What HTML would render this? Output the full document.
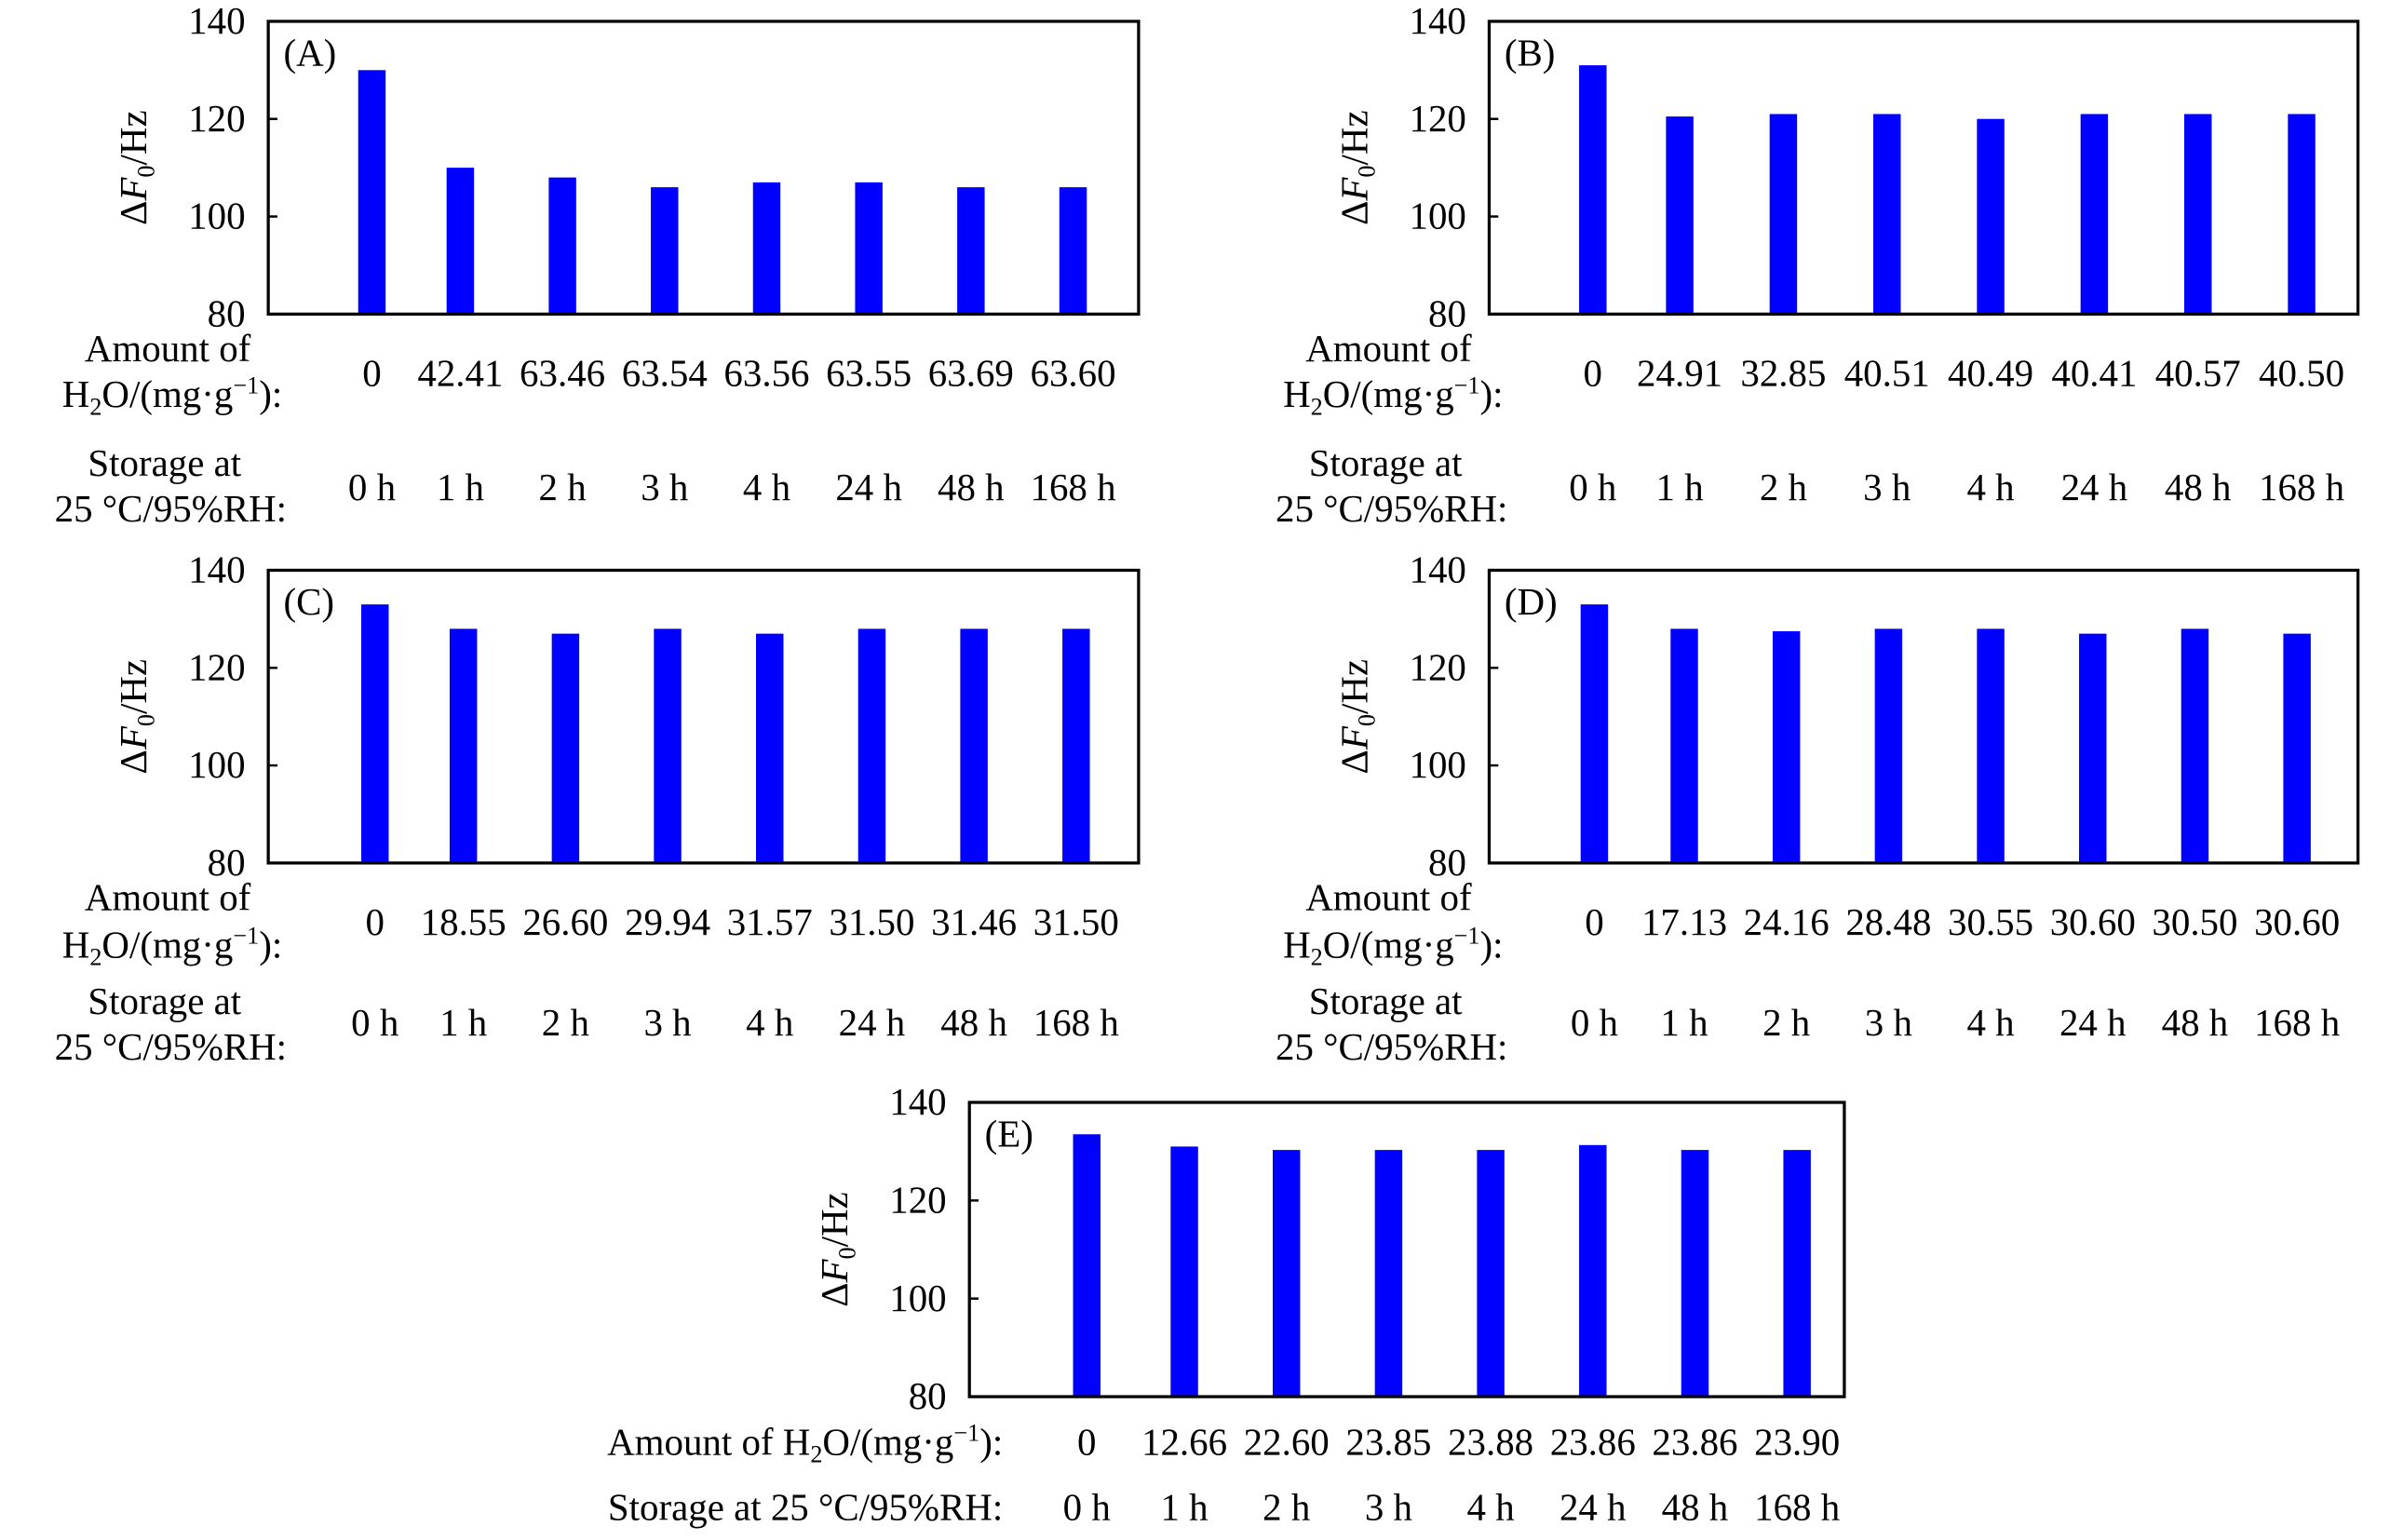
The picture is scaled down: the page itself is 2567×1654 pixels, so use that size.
<!DOCTYPE html>
<html><head><meta charset="utf-8"><style>
html,body{margin:0;padding:0;background:#fff;}
svg{display:block;}
text{font-family:"Liberation Serif",serif;fill:#000;}
</style></head><body>
<svg id="fig" width="2567" height="1654" viewBox="0 0 1568 1010" preserveAspectRatio="none" xmlns="http://www.w3.org/2000/svg"></svg>
<script>
const timeLabels = ["0 h","1 h","2 h","3 h","4 h","24 h","48 h","168 h"];
const yTicks = [80,100,120,140];
const valuesA = [130,110,108,106,107,107,106,106];
const valuesB = [131,120.5,121,121,120,121,121,121];
const valuesC = [133,128,127,128,127,128,128,128];
const valuesD = [133,128,127.5,128,128,127,128,127];
const valuesE = [133.5,131,130.3,130.3,130.3,131.3,130.3,130.3];
const waterA = ["0","42.41","63.46","63.54","63.56","63.55","63.69","63.60"];
const waterB = ["0","24.91","32.85","40.51","40.49","40.41","40.57","40.50"];
const waterC = ["0","18.55","26.60","29.94","31.57","31.50","31.46","31.50"];
const waterD = ["0","17.13","24.16","28.48","30.55","30.60","30.50","30.60"];
const waterE = ["0","12.66","22.60","23.85","23.88","23.86","23.86","23.90"];

const FS=25;
const NS="http://www.w3.org/2000/svg";
const svg=document.getElementById('fig');
function mk(tag,attrs,parent){const e=document.createElementNS(NS,tag);for(const k in attrs)e.setAttribute(k,attrs[k]);(parent||svg).appendChild(e);return e;}

const panels=[
 {id:"A",vals:valuesA,water:waterA,x0:176,x1:747,y0:14,y1:206,first:68,gap1:58,pitch:67,split:true,r1:47,r2:122,h:[31,61,106,136]},
 {id:"B",vals:valuesB,water:waterB,x0:977,x1:1547,y0:14,y1:206,first:68,gap1:57,pitch:68,split:true,r1:47,r2:122,h:[31,61,106,136]},
 {id:"C",vals:valuesC,water:waterC,x0:176,x1:747,y0:374,y1:566,first:70,gap1:58,pitch:67,split:true,r1:47,r2:113,h:[31,62,99,129]},
 {id:"D",vals:valuesD,water:waterD,x0:977,x1:1547,y0:374,y1:566,first:69,gap1:59,pitch:67,split:true,r1:47,r2:113,h:[31,62,99,129]},
 {id:"E",vals:valuesE,water:waterE,x0:636,x1:1210,y0:723,y1:916,first:77,gap1:64,pitch:67,split:false,r1:38,r2:81}
];

panels.forEach(p=>{
  const g=mk('g',{});
  
  
  const yS=v=>p.y1-(v-80)/(140-80)*(p.y1-p.y0);
  const xS=i=>p.x0+p.first+(i>0?p.gap1:0)+Math.max(i-1,0)*p.pitch;
  p.vals.forEach((v,i)=>{
    const r=mk('rect',{x:xS(i)-9,y:yS(v),width:18,height:p.y1-yS(v),fill:'#0000ff'},g);
    
    
  });
  const fr=mk('rect',{x:p.x0,y:p.y0,width:p.x1-p.x0,height:p.y1-p.y0,fill:'none',stroke:'#000','stroke-width':2},g);
  
  
  yTicks.forEach(t=>{
    const y=yS(t);
    mk('line',{x1:p.x0,x2:p.x0+6,y1:y,y2:y,stroke:'#000','stroke-width':1.5},g);
    const tl=mk('text',{x:p.x0-15,y:y+8,'text-anchor':'end','font-size':FS},g);
    tl.textContent=t;
    
    
  });
  const cy=(p.y0+p.y1)/2, tx=p.x0-80;
  const yt=mk('text',{x:tx,y:cy,transform:`rotate(-90 ${tx} ${cy})`,'text-anchor':'middle','font-size':FS},g);
  yt.innerHTML='Δ<tspan font-style="italic">F</tspan><tspan font-size="16" dy="5">0</tspan><tspan dy="-5">/Hz</tspan>';
  
  
  const pl=mk('text',{x:p.x0+10,y:p.y0+29,'font-size':FS},g);
  pl.textContent='('+p.id+')';
  
  
  const r1=p.y1+p.r1, r2=p.y1+p.r2;
  p.water.forEach((w,i)=>{
    const t=mk('text',{x:xS(i),y:r1,'text-anchor':'middle','font-size':FS},g);
    t.textContent=w;
    
    
  });
  timeLabels.forEach((w,i)=>{
    const t=mk('text',{x:xS(i),y:r2,'text-anchor':'middle','font-size':FS},g);
    t.textContent=w;
    
    
  });
  if(p.split){
    const hx=p.x0-66;
    const a=mk('text',{x:hx,y:p.y1+p.h[0],'text-anchor':'middle','font-size':FS},g);a.textContent='Amount of';
    
    
    const b=mk('text',{x:hx+3,y:p.y1+p.h[1],'text-anchor':'middle','font-size':FS},g);
    b.innerHTML='H<tspan font-size="16" dy="5">2</tspan><tspan dy="-5">O/(mg·g</tspan><tspan font-size="16" dy="-9">−1</tspan><tspan dy="9">):</tspan>';
    
    
    const c=mk('text',{x:hx-2,y:p.y1+p.h[2],'text-anchor':'middle','font-size':FS},g);c.textContent='Storage at';
    
    
    const d=mk('text',{x:hx+2,y:p.y1+p.h[3],'text-anchor':'middle','font-size':FS},g);d.textContent='25 °C/95%RH:';
    
    
  } else {
    const hx=p.x0+22;
    const b=mk('text',{x:hx,y:r1,'text-anchor':'end','font-size':FS},g);
    b.innerHTML='Amount of H<tspan font-size="16" dy="5">2</tspan><tspan dy="-5">O/(mg·g</tspan><tspan font-size="16" dy="-9">−1</tspan><tspan dy="9">):</tspan>';
    
    
    const d=mk('text',{x:hx,y:r2,'text-anchor':'end','font-size':FS},g);d.textContent='Storage at 25 °C/95%RH:';
    
    
  }
});
</script>
</body></html>
